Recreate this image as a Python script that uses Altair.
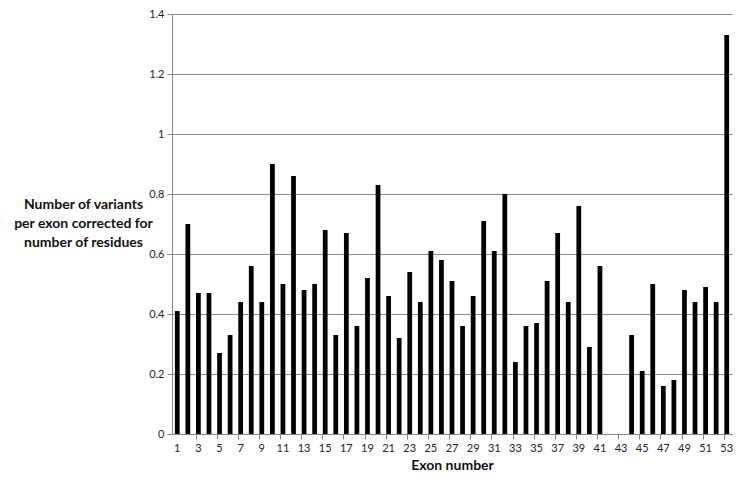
import altair as alt
import pandas as pd

exons = list(range(1, 54))
values = [0.41, 0.70, 0.47, 0.47, 0.27, 0.33, 0.44, 0.56, 0.44, 0.90,
          0.50, 0.86, 0.48, 0.50, 0.68, 0.33, 0.67, 0.36, 0.52, 0.83,
          0.46, 0.32, 0.54, 0.44, 0.61, 0.58, 0.51, 0.36, 0.46, 0.71,
          0.61, 0.80, 0.24, 0.36, 0.37, 0.51, 0.67, 0.44, 0.76, 0.29,
          0.56, 0.0, 0.0, 0.33, 0.21, 0.50, 0.16, 0.18, 0.48, 0.44,
          0.49, 0.44, 1.33]
odd_labels = [e for e in exons if e % 2 == 1]
y_ticks = [0, 0.2, 0.4, 0.6, 0.8, 1.0, 1.2, 1.4]

df = pd.DataFrame({"exon": [str(e) for e in exons], "value": values})
domain = [str(e) for e in exons]
FONT = "Lato"

xscale = alt.Scale(domain=domain, paddingInner=0.55, paddingOuter=0.275)

bars = alt.Chart(df).mark_bar(color="black").encode(
    x=alt.X("exon:N", scale=xscale, sort=domain,
            axis=alt.Axis(values=[str(v) for v in odd_labels], labelAngle=0,
                          orient="bottom",
                          ticks=False, labelPadding=8, labelFontSize=11,
                          labelFont=FONT, labelColor="#222",
                          domainColor="#868686", title="Exon number",
                          titleFont=FONT, titleFontSize=14, titleFontWeight="bold",
                          titleColor="#111", titleBaseline="middle", titleY=31)),
    y=alt.Y("value:Q", scale=alt.Scale(domain=[0, 1.4], nice=False),
            axis=alt.Axis(values=y_ticks, format="~g", grid=True,
                          gridColor="#8c8c8c", domainColor="#868686",
                          tickColor="#868686", tickSize=5, labelPadding=3,
                          labelFontSize=11, labelFont=FONT, labelColor="#222",
                          title=["Number of variants",
                                 "per exon corrected for",
                                 "number of residues"],
                          titleAngle=0, titleAlign="center", titleBaseline="top",
                          titleX=-89, titleY=183, titleLineHeight=19,
                          titleFont=FONT, titleFontSize=14, titleFontWeight="bold",
                          titleColor="#111")),
)

ticks_layer = alt.Chart(df).mark_bar(opacity=0).encode(
    x=alt.X("exon:N", scale=xscale, sort=domain,
            axis=alt.Axis(values=[str(v) for v in odd_labels[1:]], labels=False,
                          orient="bottom",
                          ticks=True, tickSize=5, tickColor="#868686",
                          bandPosition=0, domain=False, title=None, grid=False)),
    y=alt.Y("value:Q"),
)

chart = alt.layer(bars, ticks_layer).resolve_axis(x="independent").properties(
    width=560, height=420,
    autosize=alt.AutoSizeParams(type="none"),
    padding={"left": 164, "top": 6, "right": 4, "bottom": 42},
).configure_view(stroke=None)

chart.save("out.html", embed_options={"renderer": "svg", "actions": False})
